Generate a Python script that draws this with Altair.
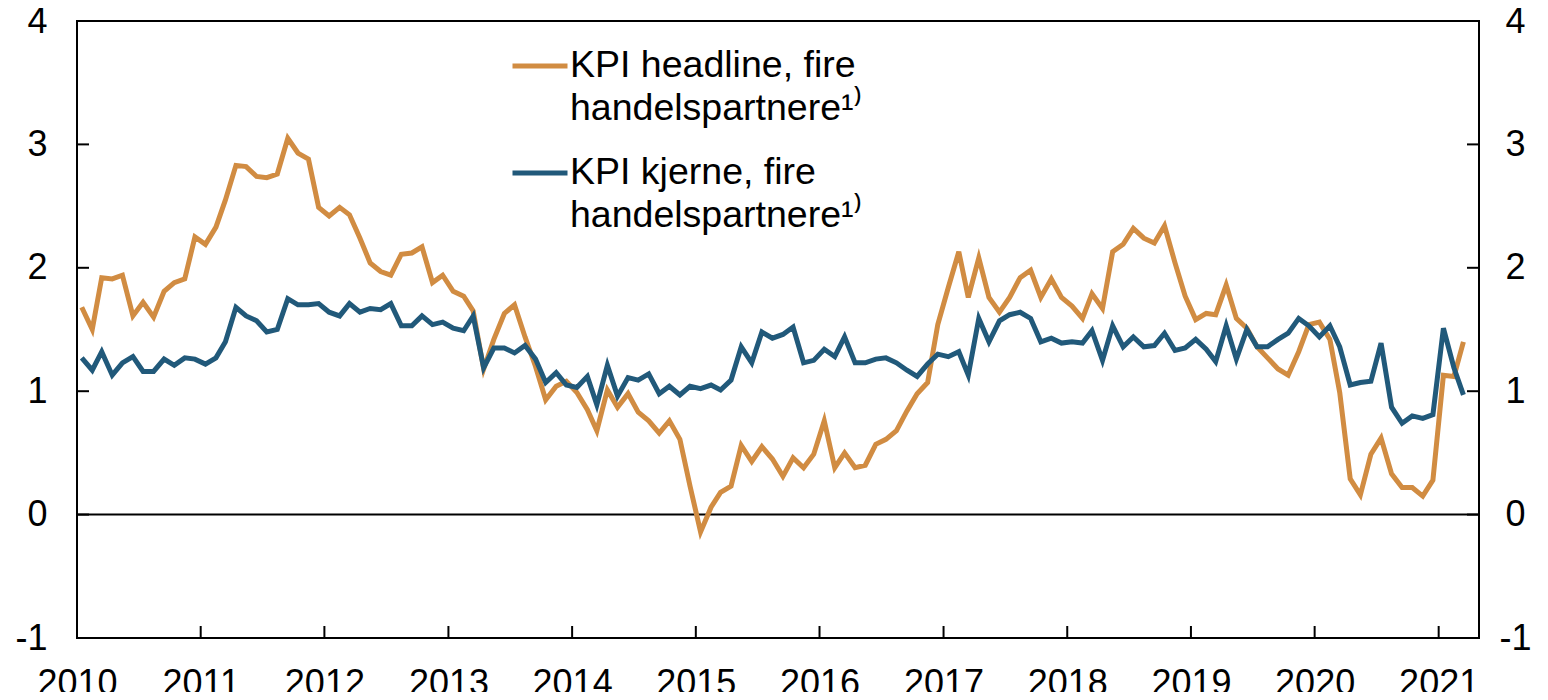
import altair as alt
import pandas as pd

# ---- data (monthly, Jan 2010 - Mar 2021) ----
headline = [
    1.68, 1.50, 1.92, 1.91, 1.94, 1.61, 1.72, 1.60, 1.81, 1.88, 1.91, 2.25,
    2.19, 2.33, 2.55, 2.83, 2.82, 2.74, 2.73, 2.76, 3.05, 2.93, 2.88, 2.49,
    2.42, 2.49, 2.43, 2.24, 2.04, 1.97, 1.94, 2.11, 2.12, 2.17, 1.88, 1.94,
    1.81, 1.77, 1.65, 1.18, 1.42, 1.63, 1.70, 1.44, 1.20, 0.93, 1.04, 1.08,
    0.99, 0.85, 0.68, 1.01, 0.87, 0.98, 0.83, 0.76, 0.66, 0.76, 0.61, 0.23,
    -0.14, 0.06, 0.18, 0.23, 0.56, 0.43, 0.55, 0.45, 0.31, 0.46, 0.38, 0.49,
    0.76, 0.38, 0.50, 0.38, 0.40, 0.57, 0.61, 0.68, 0.84, 0.98, 1.07, 1.54,
    1.84, 2.13, 1.76, 2.08, 1.76, 1.64, 1.76, 1.92, 1.98, 1.76, 1.91, 1.76,
    1.69, 1.59, 1.79, 1.67, 2.13, 2.19, 2.32, 2.24, 2.20, 2.34, 2.04, 1.77,
    1.58, 1.63, 1.62, 1.86, 1.59, 1.51, 1.36, 1.27, 1.18, 1.13, 1.32, 1.54,
    1.56, 1.42, 0.99, 0.29, 0.16, 0.49, 0.62, 0.33, 0.22, 0.22, 0.15, 0.28,
    1.13, 1.12, 1.40,
]
kjerne = [
    1.27, 1.17, 1.32, 1.13, 1.23, 1.28, 1.16, 1.16, 1.26, 1.21, 1.27, 1.26,
    1.22, 1.27, 1.40, 1.68, 1.61, 1.57, 1.48, 1.50, 1.75, 1.70, 1.70, 1.71,
    1.64, 1.61, 1.71, 1.64, 1.67, 1.66, 1.71, 1.53, 1.53, 1.61, 1.54, 1.56,
    1.51, 1.49, 1.61, 1.19, 1.35, 1.35, 1.31, 1.37, 1.26, 1.07, 1.15, 1.05,
    1.03, 1.12, 0.89, 1.21, 0.96, 1.11, 1.09, 1.14, 0.98, 1.04, 0.97, 1.04,
    1.02, 1.05, 1.01, 1.09, 1.36, 1.23, 1.48, 1.43, 1.46, 1.52, 1.23, 1.25,
    1.34, 1.28, 1.44, 1.23, 1.23, 1.26, 1.27, 1.23, 1.17, 1.12, 1.22, 1.30,
    1.28, 1.32, 1.13, 1.59, 1.40, 1.57, 1.62, 1.64, 1.59, 1.40, 1.43, 1.39,
    1.40, 1.39, 1.49, 1.25, 1.53, 1.36, 1.44, 1.36, 1.37, 1.47, 1.33, 1.35,
    1.42, 1.34, 1.24, 1.53, 1.26, 1.50, 1.36, 1.36, 1.42, 1.47, 1.59, 1.53,
    1.44, 1.53, 1.36, 1.05, 1.07, 1.08, 1.39, 0.87, 0.74, 0.80, 0.78, 0.81,
    1.51, 1.19, 0.97,
]
series_labels = ["KPI headline, fire|handelspartnere\u00b9\u207e",
                 "KPI kjerne, fire|handelspartnere\u00b9\u207e"]
series_colors = ["#D18C42", "#21597A"]
years = list(range(2010, 2022))
y_ticks = [-1, 0, 1, 2, 3, 4]

# ---- tables ----
n = len(headline)
dates = pd.date_range("2010-01-01", periods=n, freq="MS") + pd.Timedelta(days=14)
df = pd.DataFrame({
    "date": list(dates) * 2,
    "value": headline + kjerne,
    "serie": [series_labels[0]] * n + [series_labels[1]] * n,
})
ytick_df = pd.DataFrame({"t": y_ticks})
xtick_df = pd.DataFrame({"d": [pd.Timestamp(year=y, month=1, day=1) for y in years]})
zero_df = pd.DataFrame({"v": [0]})

W, H = 1402, 617
FONT = "Liberation Sans"
FS = 36
LFS = 37.5
TICK = 12

xscale = alt.Scale(domain=[alt.DateTime(year=2010, month=1, date=1),
                           alt.DateTime(year=2021, month=4, date=30)])
yscale = alt.Scale(domain=[-1, 4], nice=False, zero=False)

xaxis = alt.Axis(values=[alt.DateTime(year=y, month=1, date=1) for y in years],
                 format="%Y", ticks=False, domain=False, grid=False,
                 labelFontSize=FS, labelFont=FONT, labelColor="black",
                 labelPadding=28, labelFlush=False, labelOverlap=False, title=None)

lines = alt.Chart(df).mark_line(strokeWidth=5).encode(
    x=alt.X("date:T", scale=xscale, axis=xaxis),
    y=alt.Y("value:Q", scale=yscale,
            axis=alt.Axis(orient="left", values=y_ticks, ticks=False, domain=False,
                          grid=False, labelFontSize=FS, labelFont=FONT,
                          labelExpr="'' + datum.value",
                          labelColor="black", labelPadding=30, title=None)),
    color=alt.Color("serie:N",
                    scale=alt.Scale(domain=series_labels, range=series_colors),
                    legend=alt.Legend(orient="none", legendX=433, legendY=15,
                                      title=None, symbolType="stroke",
                                      symbolSize=55 * 55, symbolStrokeWidth=5,
                                      labelFontSize=LFS, labelFont=FONT,
                                      labelColor="black", labelOffset=0,
                                      labelLimit=2000, rowPadding=15, padding=0,
                                      labelExpr="split(datum.label, '|')")),
)

zero = alt.Chart(zero_df).mark_rule(color="black", strokeWidth=2).encode(
    y=alt.Y("v:Q", scale=yscale,
            axis=alt.Axis(orient="right", values=y_ticks, ticks=False, domain=False,
                          grid=False, labelFontSize=FS, labelFont=FONT,
                          labelExpr="'' + datum.value", labelAlign="center",
                          labelColor="black", labelPadding=36, title=None)),
)

ltick = alt.Chart(ytick_df).mark_rule(color="black", strokeWidth=2).encode(
    y=alt.Y("t:Q", scale=yscale, axis=None),
    x=alt.value(0), x2=alt.value(TICK),
)
rtick = alt.Chart(ytick_df).mark_rule(color="black", strokeWidth=2).encode(
    y=alt.Y("t:Q", scale=yscale, axis=None),
    x=alt.value(W - TICK), x2=alt.value(W),
)
xtick = alt.Chart(xtick_df).mark_rule(color="black", strokeWidth=2).encode(
    x=alt.X("d:T", scale=xscale, axis=xaxis),
    y=alt.value(H), y2=alt.value(H - TICK),
)

chart = alt.layer(zero, ltick, rtick, xtick, lines).resolve_axis(
    y="independent"
).properties(
    width=W, height=H,
    autosize=alt.AutoSizeParams(type="none"),
    padding={"left": 69, "top": 13, "right": 61, "bottom": 54},
).configure(
    font=FONT,
    style={"guide-label": {"lineHeight": 43}},
).configure_view(stroke="black", strokeWidth=2)

chart.save("out.html", embed_options={"renderer": "svg", "actions": False})
